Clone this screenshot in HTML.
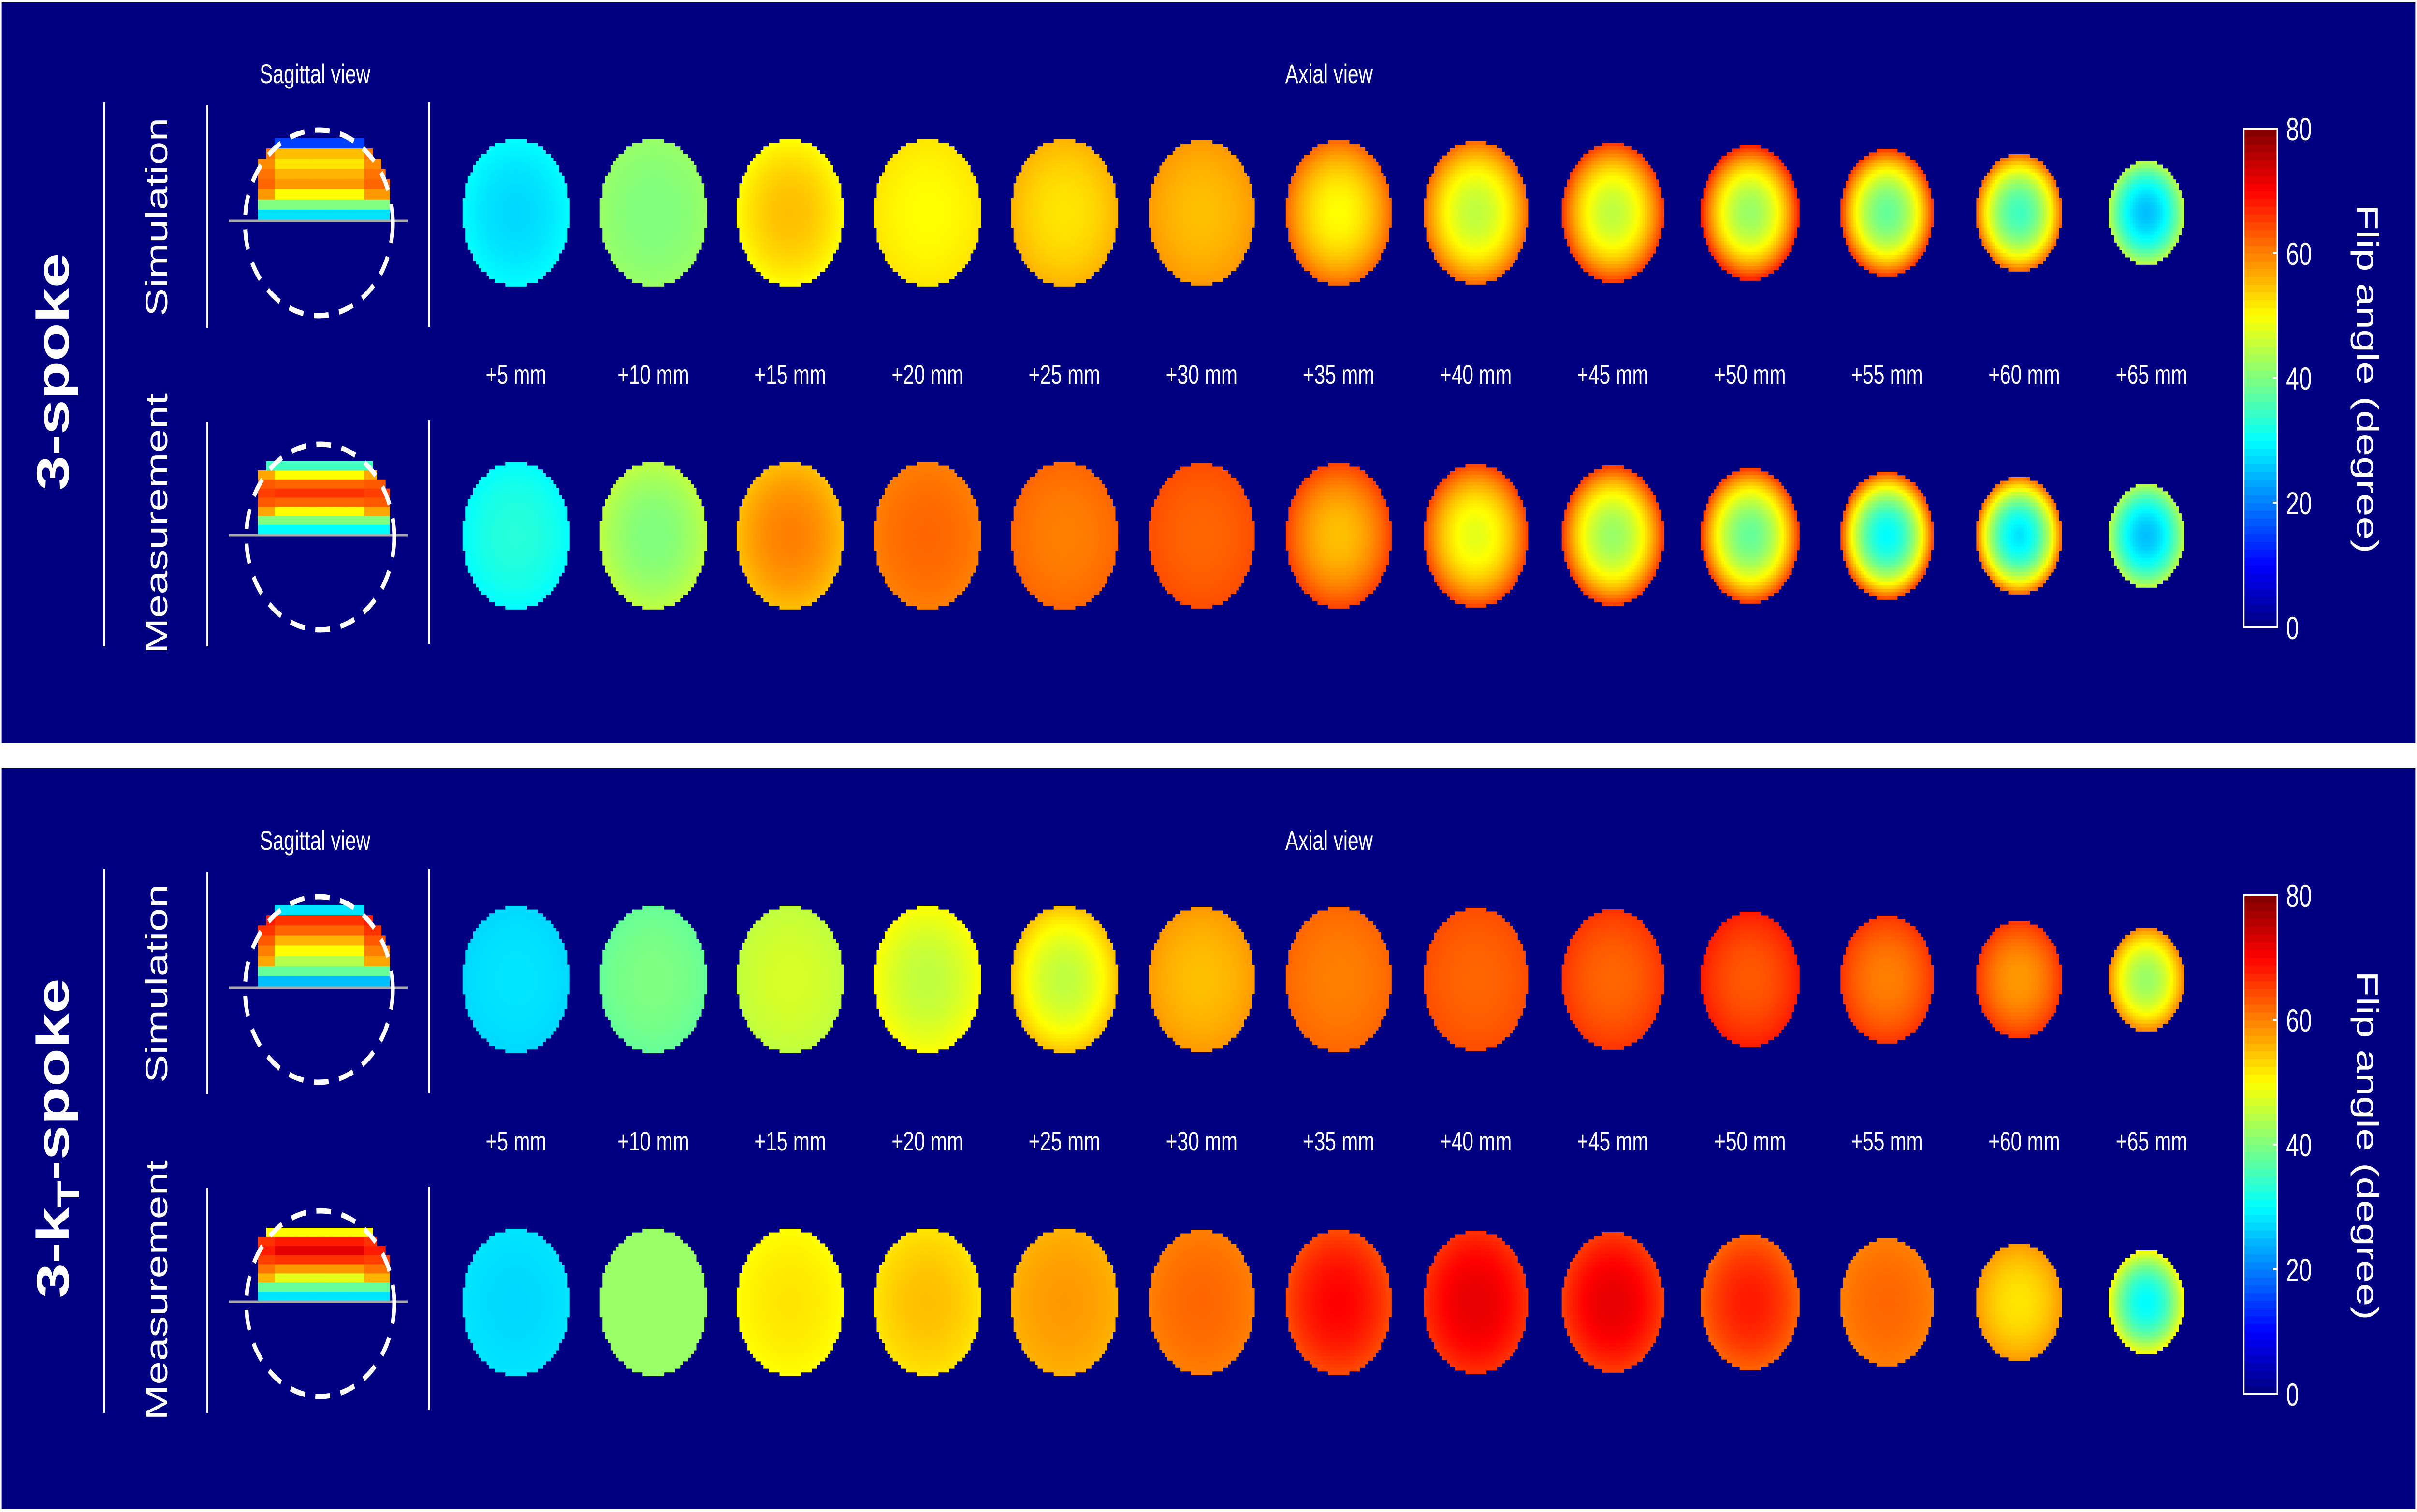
<!DOCTYPE html>
<html><head><meta charset="utf-8"><title>Flip angle maps</title>
<style>html,body{margin:0;padding:0;background:#fff;overflow:hidden;width:100%;height:100%}
svg{display:block;position:fixed;left:0;top:0;width:100vw;height:100vh}
text{font-family:"Liberation Sans",sans-serif;fill:#fff}</style>
</head><body>
<svg id="fig" xmlns="http://www.w3.org/2000/svg" viewBox="0 0 6867 3128" preserveAspectRatio="none">
<rect x="0" y="0" width="6867" height="3128" fill="#fff"/>
<g id="layer"></g>
</svg>
<script>
// ---- data ----
const sliceLabels = ["+5 mm","+10 mm","+15 mm","+20 mm","+25 mm","+30 mm","+35 mm","+40 mm","+45 mm","+50 mm","+55 mm","+60 mm","+65 mm"];
const panelTitles = ["3-spoke","3-kT-spoke"];
const rowTitles = ["Simulation","Measurement"];
// flip angle (deg) at slice centre and rim, per panel/row
const spokeSimCenter = [27,40,55,50,52,55,50,45,45,42,38,35,25];
const spokeSimRim    = [30,42,50,52,56,58,62,62,66,68,66,62,45];
const spokeMeasCenter= [33,40,60,62,60,62,55,48,42,38,30,28,25];
const spokeMeasRim   = [30,45,55,60,62,64,65,65,66,66,65,62,45];
const ktSimCenter    = [28,40,47,45,45,55,60,62,62,63,60,58,42];
const ktSimRim       = [27,38,45,50,55,58,62,64,66,68,66,66,60];
const ktMeasCenter   = [27,42,52,55,58,62,70,72,72,68,62,52,30];
const ktMeasRim      = [28,42,50,52,56,60,64,66,65,62,60,58,50];
// sagittal vertical profiles (top -> bottom) and edge value
const sagSpokeSim  = [15,55,52,56,58,50,40,28];
const sagSpokeMeas = [35,50,62,66,62,50,40,30];
const sagKtSim     = [28,66,62,56,50,44,38,25];
const sagKtMeas    = [50,68,72,66,58,48,38,28];
const sagEdge = [66,64,70,64];
const cbarTicks = [0,20,40,60,80];

// ---- helpers ----
const NS="http://www.w3.org/2000/svg";
const layer=document.getElementById('layer');
function el(tag,attrs,parent){const e=document.createElementNS(NS,tag);for(const k in attrs)e.setAttribute(k,attrs[k]);(parent||layer).appendChild(e);return e;}
function jet(v){let t=Math.max(0,Math.min(1,v/80));
  const f=x=>Math.max(0,Math.min(1,x));
  const r=f(1.5-Math.abs(4*t-3)),g=f(1.5-Math.abs(4*t-2)),b=f(1.5-Math.abs(4*t-1));
  return `rgb(${Math.round(r*255)},${Math.round(g*255)},${Math.round(b*255)})`;}

const PANEL_OFF=1586;
const sliceX=[1466,1856,2245,2635,3024,3414,3803,4193,4582,4972,5361,5751,6113];
const sliceR=[152,152,152,152,152,150,150,148,145,140,132,121,107];
const rowY=[440,1108];
const mapSets=[[ [spokeSimCenter,spokeSimRim],[spokeMeasCenter,spokeMeasRim] ],[ [ktSimCenter,ktSimRim],[ktMeasCenter,ktMeasRim] ]];
const sagSets=[[sagSpokeSim,sagSpokeMeas],[sagKtSim,sagKtMeas]];

for(let p=0;p<2;p++){
  const oy=p*PANEL_OFF;
  const panel=el('rect',{x:5,y:5+oy-(p?2:0),width:6857,height:1533,fill:'#000080'});
  
  
  const g=el('g',{});
  
  
  const t=el('text',{x:0,y:0,transform:`translate(195,${769+oy}) rotate(-90)`,'text-anchor':'middle','font-size':130,'font-weight':'bold'},g);
  
  
  if(p===0){t.textContent='3-spoke';}
  else{const a=el('tspan',{},t);a.textContent='3-k';const b=el('tspan',{'font-size':90,dy:30},t);b.textContent='T';const c=el('tspan',{dy:-30},t);c.textContent='-spoke';}
  const lines=[[296,212,1337],[589,218,678],[589,872,1337],[1219,212,676],[1219,869,1332]];
  lines.forEach(l=>{const ln=el('line',{x1:l[0],x2:l[0],y1:l[1]+oy,y2:l[2]+oy,stroke:'#fff','stroke-width':5},g);
    });
  const sv=el('text',{x:895,y:172+oy,'text-anchor':'middle','font-size':56},g);sv.textContent='Sagittal view';
  
  const av=el('text',{x:3776,y:172+oy,'text-anchor':'middle','font-size':56},g);av.textContent='Axial view';
  
  [449,1083].forEach((cy,r)=>{const rt=el('text',{transform:`translate(475,${cy+oy}) rotate(-90)`,'text-anchor':'middle','font-size':88},g);
    rt.textContent=rowTitles[r];});
  sliceLabels.forEach((s,i)=>{const st=el('text',{x:sliceX[i],y:794+oy,'text-anchor':'middle','font-size':56,'font-family':'"DejaVu Sans",sans-serif'},g);
    st.textContent=s;});
  for(let r=0;r<2;r++){
    const [cen,rim]=mapSets[p][r];
    for(let i=0;i<13;i++){
      const cx=sliceX[i]+(i>10?-15:0), cy=rowY[r]+oy, R=sliceR[i];
      const mg=el('g',{},g);
      
      
      const N=Math.round(R/7.5), cs=R/N;
      for(let a=-N;a<N;a++)for(let b=-N;b<N;b++){
        const dx=(a+0.5)/N, dy=(b+0.5)/N, rr=dx*dx+dy*dy;
        if(rr>1)continue;
        const v=cen[i]+(rim[i]-cen[i])*rr;
        const c=el('rect',{x:(cx+a*cs).toFixed(1),y:(cy+b*cs).toFixed(1),width:(cs+0.8).toFixed(1),height:(cs+0.8).toFixed(1),fill:jet(v)},mg);
        
        
      }
    }
  }
  const sagCY=[461,1111];
  const sagTop=[286,954];
  for(let r=0;r<2;r++){
    const prof=sagSets[p][r], edge=sagEdge[p*2+r];
    const cy=sagCY[r]+oy, cx=906;
    const top=sagTop[r]+oy;
    const bot=cy-6;
    const sg=el('g',{},g);
    
    
    const x0=732,x1=1096,cw=12.1,rows=prof.length, ch=(bot-top)/rows;
    for(let x=x0;x<x1;x+=cw){
      const ux=((x+cw/2)-cx)/215;
      for(let k=0;k<rows;k++){
        const y=top+k*ch;
        const uy=((y+ch/2)-cy)/192;
        if(ux*ux+uy*uy>1.08)continue;
        const w=Math.abs(ux)>0.6&&k>0&&k<rows-2?0.5:0;
        const v=prof[k]*(1-w)+edge*w;
        const c=el('rect',{x:x.toFixed(1),y:y.toFixed(1),width:cw+0.6,height:(ch+0.6).toFixed(1),fill:jet(v)},sg);
        
        
      }
    }
    const hl=el('line',{x1:650,x2:1158,y1:cy-4,y2:cy-4,stroke:'#aaa','stroke-width':5},g);
    
    const ec=el('ellipse',{cx:cx+(r?4:0),cy:cy,rx:210,ry:192,fill:'none',stroke:'#fff','stroke-width':11,'stroke-dasharray':'42 30'},g);
    
  }
  const cbTop=266+oy, cbBot=1298+oy, cbL=6375, cbR=6470;
  const cb=el('g',{},g);
  
  const nb=64, bh=(cbBot-cbTop)/nb;
  for(let k=0;k<nb;k++){
    const v=(k+0.5)/nb*80;
    const c=el('rect',{x:cbL,y:(cbBot-(k+1)*bh).toFixed(1),width:cbR-cbL,height:(bh+0.6).toFixed(1),fill:jet(v)},cb);
    
  }
  const bd=el('rect',{x:cbL,y:cbTop,width:cbR-cbL,height:cbBot-cbTop,fill:'none',stroke:'#fff','stroke-width':4},cb);
  
  cbarTicks.forEach(v=>{
    const y=cbBot-v/80*(cbBot-cbTop);
    if(v>0&&v<80){const tk=el('line',{x1:cbR-12,x2:cbR,y1:y,y2:y,stroke:'#fff','stroke-width':4},cb);
      }
    const tl=el('text',{x:6495,y:y+24,'font-size':66},cb);tl.textContent=String(v);
    
  });
  const cl=el('text',{transform:`translate(6696,${784+oy}) rotate(90)`,'text-anchor':'middle','font-size':86},g);
  cl.textContent='Flip angle (degree)';
  
}
</script>
</body></html>
